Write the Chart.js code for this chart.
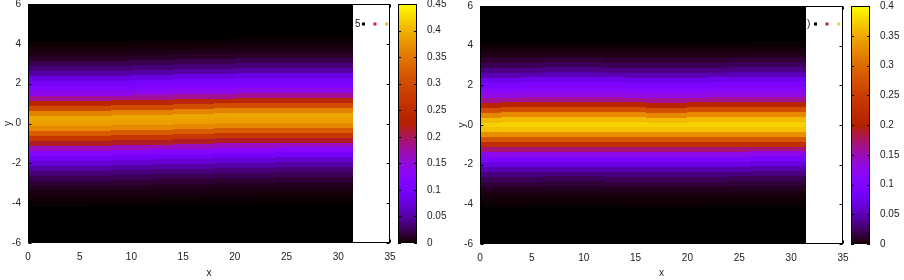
<!DOCTYPE html>
<html>
<head>
<meta charset="utf-8">
<script src="https://cdn.jsdelivr.net/npm/chart.js@4"></script>
<style>
  html, body { margin: 0; padding: 0; background: #fff; }
  #wrap { position: relative; width: 904px; height: 280px; }
  canvas { position: absolute; top: 0; }
</style>
</head>
<body>
<div id="wrap">
  <canvas id="left" width="452" height="280" style="left:0"></canvas>
  <canvas id="right" width="452" height="280" style="left:452px"></canvas>
</div>
<script>
// grille en y (de -4 a 4), hors de cet intervalle la densite est ~0
const yGrid = [-4, -3.75, -3.5, -3.25, -3, -2.75, -2.5, -2.25, -2, -1.75, -1.5, -1.25, -1, -0.75, -0.5, -0.25,
  0, 0.25, 0.5, 0.75, 1, 1.25, 1.5, 1.75, 2, 2.25, 2.5, 2.75, 3, 3.25, 3.5, 3.75, 4];

// bords des colonnes en x
const xEdges = [0, 2, 4, 6, 8, 10, 12, 14, 16, 18, 20, 22, 24, 26, 28, 30, 31.4];

// profils
const leftProfile = [0.001, 0.0025, 0.005, 0.009, 0.015, 0.024, 0.035, 0.05, 0.07, 0.095, 0.125, 0.165, 0.215, 0.27, 0.32, 0.365,
  0.385, 0.39, 0.36, 0.30, 0.24, 0.18, 0.14, 0.115, 0.098, 0.078, 0.05, 0.035, 0.022, 0.012, 0.006, 0.003, 0.001];
const rightProfile = [0.001, 0.002, 0.004, 0.008, 0.014, 0.022, 0.033, 0.048, 0.07, 0.095, 0.125, 0.17, 0.225, 0.28, 0.33, 0.365,
  0.375, 0.36, 0.325, 0.27, 0.21, 0.16, 0.13, 0.112, 0.095, 0.075, 0.05, 0.035, 0.022, 0.013, 0.007, 0.003, 0.001];

// deplacement du profil en y, par colonne
const leftShift = [0, 0, 0, 0.01, 0.03, 0.05, 0.07, 0.09, 0.11, 0.13, 0.15, 0.16, 0.17, 0.17, 0.17, 0.17];
const rightShift = [0, 0.01, 0.02, 0.03, 0.03, 0.03, 0.02, 0.01, 0, 0, 0.01, 0.02, 0.03, 0.04, 0.04, 0.04];

// echelles
const leftCbMax = 0.45;
const rightCbMax = 0.4;

const font = { family: 'Liberation Sans, Arial, sans-serif', size: 10 };

// palette gnuplot 7,5,15
function palette(t) {
  t = Math.min(1, Math.max(0, t));
  const r = Math.sqrt(t), g = t * t * t, b = Math.max(0, Math.sin(2 * Math.PI * t));
  return `rgb(${Math.round(r * 255)},${Math.round(g * 255)},${Math.round(b * 255)})`;
}

const heatmap = {
  id: 'heatmap',
  beforeDatasetsDraw(chart, args, o) {
    const { ctx, chartArea: a, scales: { x, y } } = chart;
    const step = yGrid[1] - yGrid[0];
    ctx.save();
    ctx.beginPath();
    ctx.rect(a.left, a.top, a.width, a.height);
    ctx.clip();
    const x0 = Math.round(x.getPixelForValue(xEdges[0]));
    const x1 = Math.round(x.getPixelForValue(xEdges[xEdges.length - 1]));
    ctx.fillStyle = palette(0);
    ctx.fillRect(x0, a.top, x1 - x0, a.height);
    o.shift.forEach((s, i) => {
      const l = Math.round(x.getPixelForValue(xEdges[i]));
      const r = Math.round(x.getPixelForValue(xEdges[i + 1]));
      yGrid.forEach((yv, j) => {
        const t = Math.round(y.getPixelForValue(yv + s + step / 2));
        const b = Math.round(y.getPixelForValue(yv + s - step / 2));
        ctx.fillStyle = palette(o.profile[j] / o.max);
        ctx.fillRect(l, t, r - l, b - t);
      });
    });
    ctx.restore();
  }
};

const frame = {
  id: 'frame',
  afterDraw(chart, args, o) {
    const { ctx, chartArea: a, scales: { x, y, cb } } = chart;
    const L = Math.round(a.left) + 0.5, R = Math.round(a.right) - 0.5;
    const T = Math.round(a.top) + 0.5, B = Math.round(a.bottom) - 0.5;
    const tl = 3;
    ctx.save();
    ctx.strokeStyle = '#000';
    ctx.lineWidth = 1;
    ctx.strokeRect(L, T, R - L, B - T);
    ctx.beginPath();
    x.ticks.forEach(t => {
      const p = Math.round(x.getPixelForValue(t.value)) + 0.5;
      ctx.moveTo(p, B); ctx.lineTo(p, B - tl);
      ctx.moveTo(p, T); ctx.lineTo(p, T + tl);
    });
    y.ticks.forEach(t => {
      const p = Math.round(y.getPixelForValue(t.value)) + 0.5;
      ctx.moveTo(L, p); ctx.lineTo(L + tl, p);
      ctx.moveTo(R, p); ctx.lineTo(R - tl, p);
    });
    ctx.stroke();

    // barre de couleurs
    const cl = Math.round(a.right) + o.cbGap;
    const cw = o.cbWidth;
    for (let py = Math.round(cb.top); py < Math.round(cb.bottom); py++) {
      ctx.fillStyle = palette(cb.getValueForPixel(py + 0.5) / cb.max);
      ctx.fillRect(cl, py, cw, 1);
    }
    const cT = Math.round(cb.top) + 0.5, cB = Math.round(cb.bottom) - 0.5;
    ctx.strokeRect(cl + 0.5, cT, cw - 1, cB - cT);
    ctx.beginPath();
    cb.ticks.forEach(t => {
      const p = Math.round(cb.getPixelForValue(t.value)) + 0.5;
      ctx.moveTo(cl, p); ctx.lineTo(cl + tl, p);
      ctx.moveTo(cl + cw, p); ctx.lineTo(cl + cw - tl, p);
    });
    ctx.stroke();

    // restes de la legende
    ctx.fillStyle = '#222';
    ctx.font = `${font.size}px ${font.family}`;
    ctx.textBaseline = 'middle';
    ctx.textAlign = 'left';
    ctx.fillText(o.keyText, o.keyX, o.keyY);
    o.keyColors.forEach((c, i) => {
      ctx.fillStyle = c;
      ctx.fillRect(o.keyX + 7 + i * 11.5, o.keyY - 1.5, 3, 3);
    });
    ctx.restore();
  }
};

function makeChart(id, profile, shift, cbMax, top, bottomH, cbW, titlePad, keyText, keyColors) {
  const zero = s => { s.paddingTop = 0; s.paddingBottom = 0; s.paddingLeft = 0; s.paddingRight = 0; };
  new Chart(document.getElementById(id), {
    type: 'scatter',
    data: { datasets: [] },
    plugins: [heatmap, frame],
    options: {
      responsive: false,
      animation: false,
      layout: { padding: { top: top, left: 0, right: 0, bottom: 0 } },
      plugins: {
        legend: { display: false },
        tooltip: { enabled: false },
        heatmap: { profile: profile, shift: shift, max: cbMax },
        frame: { cbGap: 8, cbWidth: 19, keyText: keyText, keyX: 355, keyY: 24, keyColors: keyColors }
      },
      scales: {
        x: {
          type: 'linear', min: 0, max: 35,
          grid: { display: false, drawTicks: false }, border: { display: false },
          ticks: { stepSize: 5, autoSkip: false, maxRotation: 0, padding: 8, font: font, color: '#222' },
          title: { display: true, text: 'x', font: font, color: '#222', padding: { top: 0, bottom: 1 } },
          afterFit: s => { s.height = bottomH; zero(s); }
        },
        y: {
          type: 'linear', min: -6, max: 6,
          grid: { display: false, drawTicks: false }, border: { display: false },
          ticks: { stepSize: 2, autoSkip: false, padding: 7, font: font, color: '#222' },
          title: { display: true, text: 'y', font: font, color: '#222', padding: { top: titlePad, bottom: 0 } },
          afterFit: s => { s.width = 28; zero(s); }
        },
        cb: {
          type: 'linear', position: 'right', min: 0, max: cbMax,
          grid: { display: false, drawTicks: false }, border: { display: false },
          ticks: {
            stepSize: 0.05, autoSkip: false, padding: 37, font: font, color: '#222',
            callback: v => String(Math.round(v * 100) / 100)
          },
          afterFit: s => { s.width = cbW; zero(s); }
        }
      }
    }
  });
}

makeChart('left', leftProfile, leftShift, leftCbMax, 4, 37, 62, 2, '5', ['#000', '#d01850', '#f0c000']);
makeChart('right', rightProfile, rightShift, rightCbMax, 6, 36, 61, 4, ')', ['#000', '#c02020', '#f0e000']);
</script>
</body>
</html>
